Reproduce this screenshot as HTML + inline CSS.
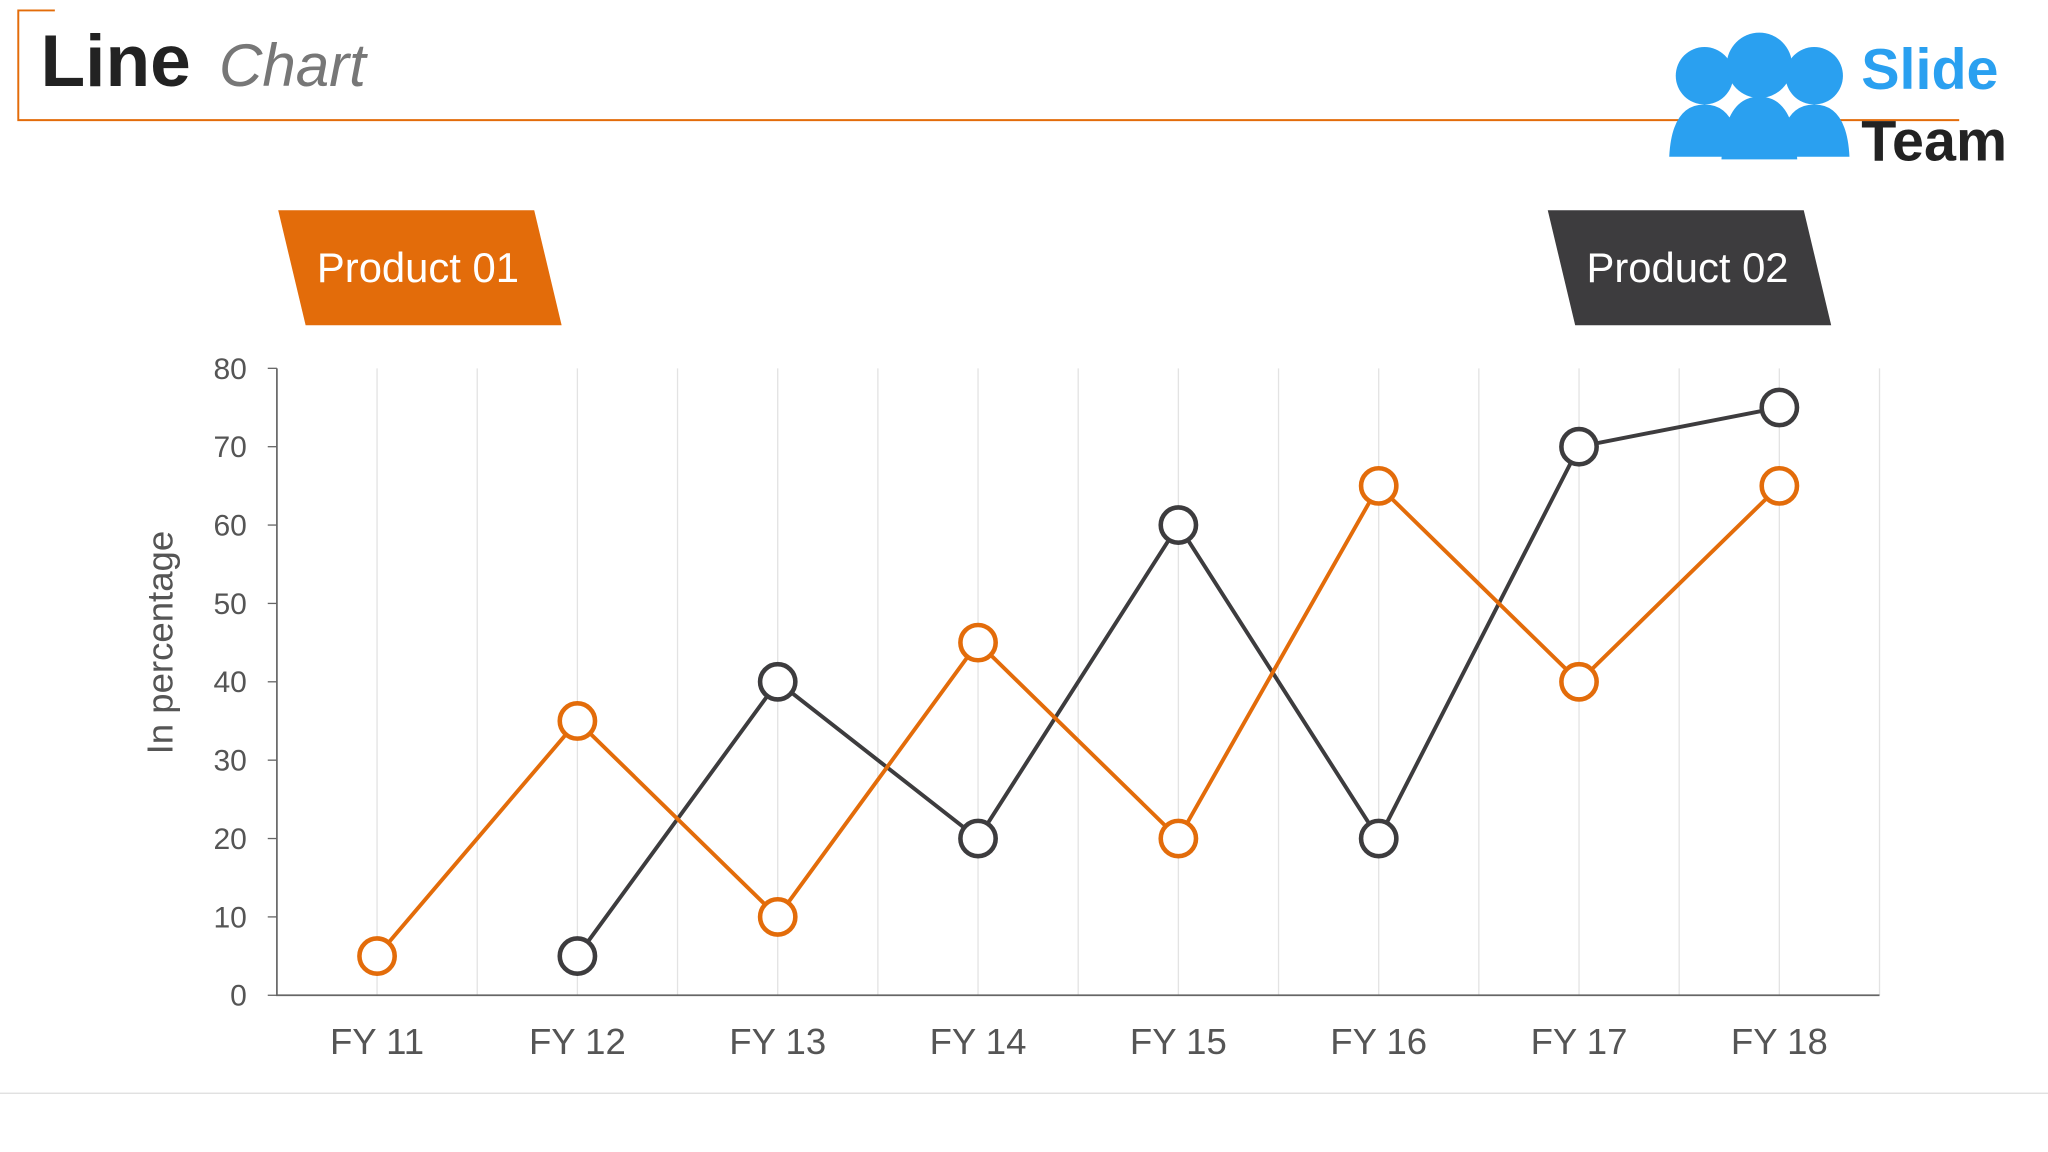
<!DOCTYPE html>
<html><head><meta charset="utf-8"><style>
html,body{margin:0;padding:0;background:#fff;}
svg{display:block;font-family:"Liberation Sans",Arial,sans-serif;}
</style></head><body>
<svg id="chart" width="2048" height="1152" viewBox="0 0 1568 882" xmlns="http://www.w3.org/2000/svg">
<g>
<path d="M42 8 H14 V92 H1500" fill="none" stroke="#e36c0a" stroke-width="1.5"/>
</g>
<text x="31" y="66" font-size="56" font-weight="bold" fill="#222">Line <tspan dx="6" font-weight="normal" font-style="italic" font-size="46" fill="#777">Chart</tspan></text>
<g>
<circle cx="1305" cy="58" r="22" fill="#2aa0f0"/><circle cx="1347" cy="50" r="25" fill="#2aa0f0"/><circle cx="1389" cy="58" r="22" fill="#2aa0f0"/>
<path d="M1278 120 Q1280 80 1305 80 Q1330 80 1332 120Z M1318 122 Q1320 74 1347 74 Q1374 74 1376 122Z M1362 120 Q1364 80 1389 80 Q1414 80 1416 120Z" fill="#2aa0f0"/>
<text x="1425" y="68" font-size="44" font-weight="bold" fill="#2aa0f0">Slide</text>
<text x="1425" y="123" font-size="44" font-weight="bold" fill="#222">Team</text>
</g>
<g>
<polygon points="213,161 409,161 430,249 234,249" fill="#e36c0a"/>
<text x="320" y="216" font-size="32" fill="#fff" text-anchor="middle">Product 01</text>
</g>
<g>
<polygon points="1185,161 1381,161 1402,249 1206,249" fill="#3d3c3e"/>
<text x="1292" y="216" font-size="32" fill="#fff" text-anchor="middle">Product 02</text>
</g>
<line x1="0" y1="837" x2="1568" y2="837" stroke="#ddd" stroke-width="1"/>
<g id="plot"></g>
</svg>
<script>
const categories=["FY 11","FY 12","FY 13","FY 14","FY 15","FY 16","FY 17","FY 18"];
const product01=[5,35,10,45,20,65,40,65];
const product02=[null,5,40,20,60,20,70,75];
const yTicks=[0,10,20,30,40,50,60,70,80];
const NS="http://www.w3.org/2000/svg";
const X0=212,X1=1439,Y0=762,Y1=282,YMAX=80;
const step=(X1-X0)/categories.length;
const xs=i=>X0+step*(i+0.5);
const ys=v=>Y0-(v/YMAX)*(Y0-Y1);
const g=document.getElementById('plot');
function mk(t,a,p){const e=document.createElementNS(NS,t);for(const k in a)e.setAttribute(k,a[k]);(p||g).appendChild(e);return e;}
for(let i=0;i<=categories.length*2;i++){
 const x=X0+step*i/2;
 const l=mk('line',{x1:x,y1:Y1,x2:x,y2:Y0,stroke:'#e3e3e3','stroke-width':1});
 
 
}
const ax=mk('path',{d:`M${X0} ${Y1} V${Y0} H${X1}`,fill:'none',stroke:'#666','stroke-width':1.3});


yTicks.forEach(v=>{
 const y=ys(v);
 const t=mk('line',{x1:X0-7,y1:y,x2:X0,y2:y,stroke:'#666'});
 
 
 const tx=mk('text',{x:189,y:y+8,'font-size':23,fill:'#555','text-anchor':'end'});
 tx.textContent=v;
 
 
});
categories.forEach((c,i)=>{
 const tx=mk('text',{x:xs(i),y:807,'font-size':28,fill:'#555','text-anchor':'middle'});
 tx.textContent=c;
 
 
});
const yt=mk('text',{x:0,y:0,'font-size':28,fill:'#555','text-anchor':'middle',transform:`translate(132 492) rotate(-90)`});
yt.textContent='In percentage';


function series(data,color,name){
 const pts=[];data.forEach((v,i)=>{if(v!==null)pts.push([xs(i),ys(v)]);});
 const pl=mk('polyline',{points:pts.map(p=>p.join(',')).join(' '),fill:'none',stroke:color,'stroke-width':3});
 
 
 pts.forEach(p=>{
  const c=mk('circle',{cx:p[0],cy:p[1],r:13.5,fill:'#fff',stroke:color,'stroke-width':3.5});
  
  
 });
}
series(product02,'#3d3c3e','product-02');
series(product01,'#e36c0a','product-01');
</script>
</body></html>
